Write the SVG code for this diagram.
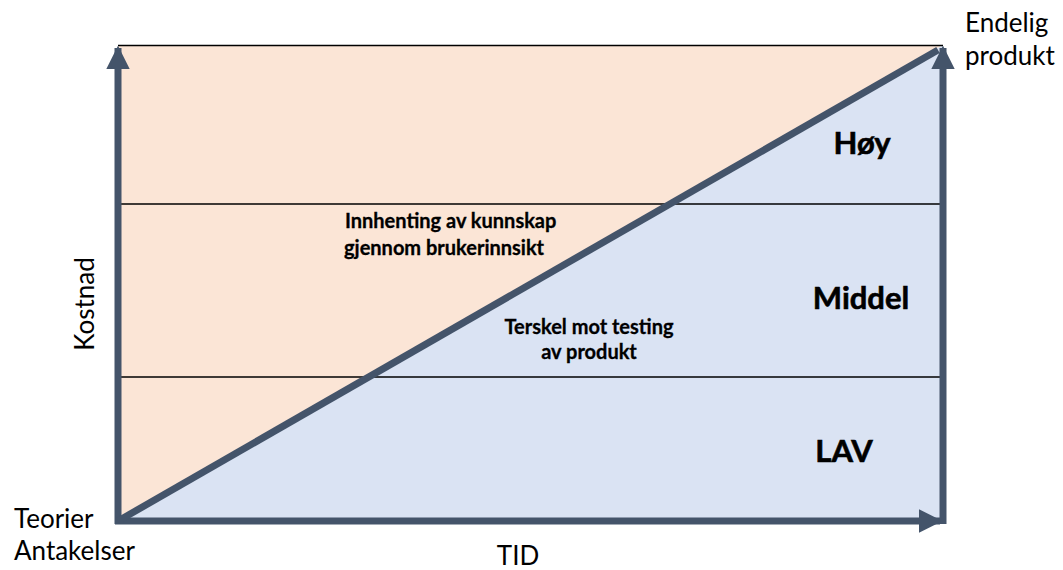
<svg xmlns="http://www.w3.org/2000/svg" width="1063" height="570" viewBox="0 0 1063 570">
<style>
.lbl{font-family:Lato,"Open Sans","Liberation Sans",sans-serif;fill:#000}
.big{font-size:26px}
.bold{font-weight:bold;font-size:31px;stroke:#000;stroke-width:0.6}
.small{font-size:20px;font-weight:bold;stroke:#000;stroke-width:0.3}
.axis{stroke:#44546A;stroke-width:7;fill:none}
.grid{stroke:#000;stroke-width:1.5}
</style>
<defs>
<marker id="ah" viewBox="0 0 10 10" refX="9" refY="5" markerWidth="3.4" markerHeight="3.4" orient="auto" markerUnits="strokeWidth">
<path d="M0,0 L10,5 L0,10 Z" fill="#44546A"/>
</marker>
</defs>
<g id="areas">
<polygon points="118,45 943,45 118,521" fill="#FBE5D6"/>
<polygon points="943,45 943,521 118,521" fill="#DAE3F3"/>
</g>
<g id="gridlines">
<line class="grid" x1="118" y1="45.5" x2="943" y2="45.5" stroke-width="3"/>
<line class="grid" x1="118" y1="204" x2="943" y2="204"/>
<line class="grid" x1="118" y1="377" x2="943" y2="377"/>
</g>
<g id="connectors">
<line class="axis" x1="118" y1="524" x2="118" y2="48" marker-end="url(#ah)"/>
<line class="axis" x1="943" y1="524" x2="943" y2="48" marker-end="url(#ah)"/>
<line class="axis" x1="115" y1="521" x2="940" y2="521" marker-end="url(#ah)"/>
<line class="axis" x1="118" y1="521" x2="938" y2="50" stroke-width="8"/>
</g>
<g id="endelig"><text class="lbl big" x="965" y="32">Endelig</text><text class="lbl big" x="965" y="65">produkt</text></g>
<g id="teorier"><text class="lbl big" x="14" y="528">Teorier</text><text class="lbl big" x="14" y="560">Antakelser</text></g>
<g id="tid"><text class="lbl big" x="518" y="565" text-anchor="middle">TID</text></g>
<g id="kostnad"><text class="lbl big" transform="translate(94,304) rotate(-90)" text-anchor="middle">Kostnad</text></g>
<g id="hoy"><text class="lbl bold" x="862" y="154" text-anchor="middle">Høy</text></g>
<g id="middel"><text class="lbl bold" x="861" y="309" text-anchor="middle">Middel</text></g>
<g id="lav"><text class="lbl bold" x="844" y="462" text-anchor="middle">LAV</text></g>
<g id="innhenting"><text class="lbl small" x="345" y="228">Innhenting av kunnskap</text><text class="lbl small" x="344" y="255">gjennom brukerinnsikt</text></g>
<g id="terskel"><text class="lbl small" x="589" y="334" text-anchor="middle">Terskel mot testing</text><text class="lbl small" x="589" y="359" text-anchor="middle">av produkt</text></g>
</svg>
